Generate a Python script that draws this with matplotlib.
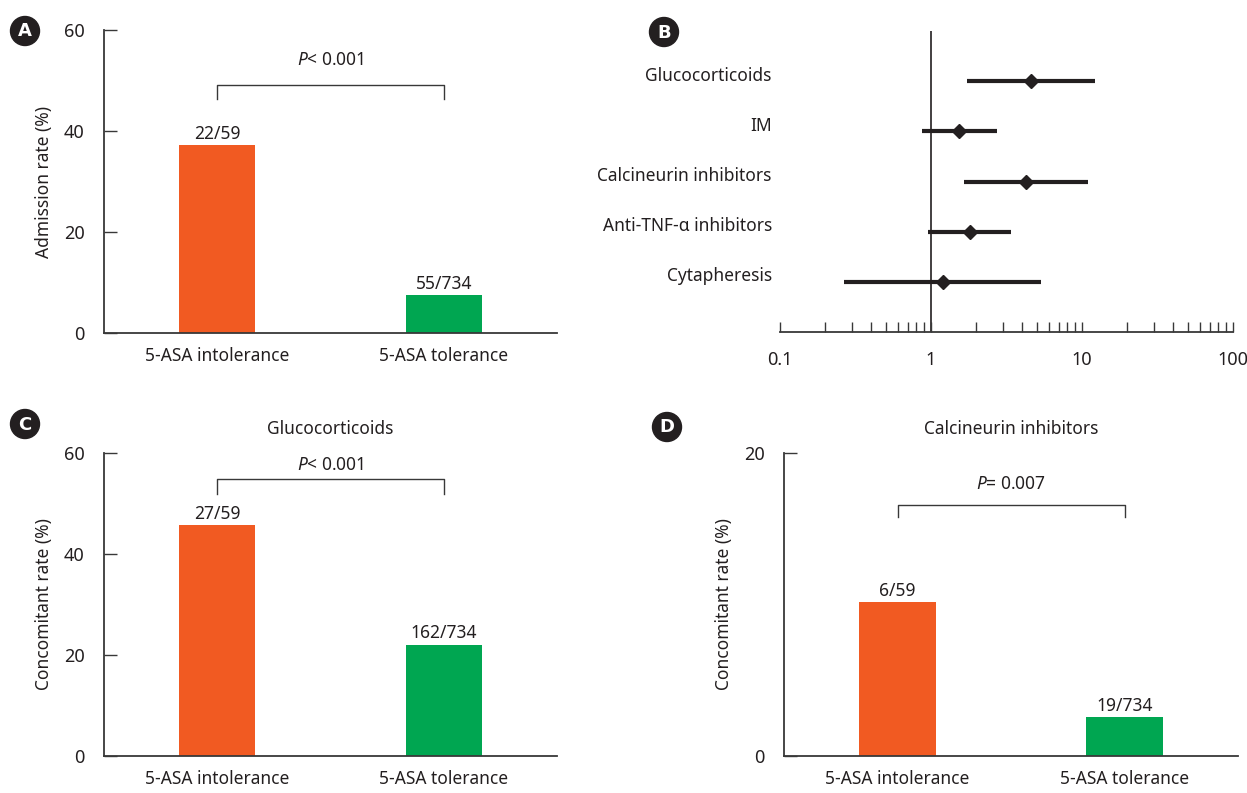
import matplotlib
matplotlib.use("Agg")
import matplotlib.pyplot as plt
import matplotlib.transforms as mtransforms
from matplotlib.patches import Circle
from matplotlib.ticker import FixedLocator, NullFormatter
import numpy as np

plt.rcParams["font.family"] = ["Noto Sans", "DejaVu Sans"]
plt.rcParams["mathtext.fontset"] = "custom"
plt.rcParams["mathtext.rm"] = "Noto Sans"
plt.rcParams["mathtext.it"] = "Noto Sans:italic"

# ---- data -------------------------------------------------------------
groups = ["5-ASA intolerance", "5-ASA tolerance"]
totals = [59, 734]
admission_n = [22, 55]
glucocorticoid_n = [27, 162]
calcineurin_n = [6, 19]

agents = ["Glucocorticoids", "IM", "Calcineurin inhibitors",
          "Anti-TNF-\u03b1 inhibitors", "Cytapheresis"]
odds_ratio = [4.60, 1.53, 4.26, 1.81, 1.20]
ci_low = [1.73, 0.87, 1.65, 0.955, 0.265]
ci_high = [12.2, 2.74, 10.96, 3.39, 5.35]

forest_ticks = [0.1, 1, 10, 100]
forest_ticklabels = ["0.1", "1", "10", "100"]

# ---- styling ----------------------------------------------------------
W, H = 1247, 793
TEXT = "#231f20"
SPINE = "#383838"
bar_colors = ["#F15A22", "#00A651"]

fig = plt.figure(figsize=(W / 100, H / 100), dpi=100)


def px_rect(left, top, right, bottom):
    return [left / W, 1 - bottom / H, (right - left) / W, (bottom - top) / H]


def bar_panel(rect, counts, ymax, yticks, ylabel, bracket, ptext, ptext_y, title=None):
    ax = fig.add_axes(rect)
    rates = [100 * n / t for n, t in zip(counts, totals)]
    x = np.arange(len(groups))
    ax.bar(x, rates, width=0.335, color=bar_colors, zorder=2)
    for xi, r, n, t in zip(x, rates, counts, totals):
        ax.annotate(f"{n}/{t}", (xi, r), xytext=(0, 1.5), textcoords="offset points",
                    ha="center", va="bottom", fontsize=12.5, color=TEXT)
    ax.set_xlim(-0.5, 1.5)
    ax.set_ylim(0, ymax)
    ax.set_yticks(yticks)
    ax.set_xticks(x, groups)
    ax.tick_params(axis="y", direction="in", length=9, width=1, color=SPINE,
                   pad=14, labelsize=13, labelcolor=TEXT)
    ax.tick_params(axis="x", length=0, pad=10, labelsize=12.5, labelcolor=TEXT)
    for s in ("top", "right"):
        ax.spines[s].set_visible(False)
    for s in ("left", "bottom"):
        ax.spines[s].set_color(SPINE)
        ax.spines[s].set_linewidth(1.3)
    top, drop = bracket
    ax.plot([0, 0, 1, 1], [drop, top, top, drop], color=SPINE, lw=1, clip_on=False)
    ax.text(0.5, ptext_y, ptext, ha="center", va="center", fontsize=12.5, color=TEXT)
    ax.set_ylabel(ylabel, fontsize=12.5, color=TEXT)
    ax.yaxis.set_label_coords(-0.113, 0.5)
    if title:
        ax.set_title(title, fontsize=12.5, color=TEXT, pad=14)
    return ax


# A: admission rate
bar_panel(px_rect(104, 30, 557, 333), admission_n, 60, [0, 20, 40, 60],
          "Admission rate (%)", (49.1, 46.3), r"$P$< 0.001", 54.1)

# C: concomitant glucocorticoids
bar_panel(px_rect(104, 453, 557, 756), glucocorticoid_n, 60, [0, 20, 40, 60],
          "Concomitant rate (%)", (54.85, 51.9), r"$P$< 0.001", 57.6,
          title="Glucocorticoids")

# D: concomitant calcineurin inhibitors
bar_panel(px_rect(784, 453, 1238, 756), calcineurin_n, 20, [0, 20],
          "Concomitant rate (%)", (16.6, 15.8), r"$P$= 0.007", 17.95,
          title="Calcineurin inhibitors")

# B: forest plot of odds ratios
axb = fig.add_axes(px_rect(780, 31, 1233, 332))
axb.set_xscale("log")
axb.set_xlim(0.1, 100)
axb.set_ylim(0, 6)
rows = np.arange(len(agents), 0, -1)
axb.plot([1, 1], [0, 6], color=TEXT, lw=1.2, zorder=1)
axb.hlines(rows, ci_low, ci_high, color=TEXT, lw=3, zorder=2)
axb.plot(odds_ratio, rows, "D", color=TEXT, ms=7, zorder=3)
axb.xaxis.set_major_locator(FixedLocator(forest_ticks))
axb.set_xticklabels(forest_ticklabels)
axb.xaxis.set_minor_formatter(NullFormatter())
axb.tick_params(axis="x", which="both", direction="in", length=7, width=1,
                color=SPINE, pad=14, labelsize=13, labelcolor=TEXT)
axb.set_yticks([])
for s in ("top", "right", "left"):
    axb.spines[s].set_visible(False)
axb.spines["bottom"].set_color(SPINE)
axb.spines["bottom"].set_linewidth(1.3)
label_tf = mtransforms.blended_transform_factory(axb.transAxes, axb.transData)
for r, name in zip(rows, agents):
    axb.text(-0.018, r + 0.11, name, transform=label_tf, ha="right", va="center",
             fontsize=12.5, color=TEXT)

# panel letters
overlay = fig.add_axes([0, 0, 1, 1])
overlay.set_xlim(0, W)
overlay.set_ylim(H, 0)
overlay.axis("off")
for letter, cx, cy in [("A", 25, 31), ("B", 664, 32), ("C", 25, 424), ("D", 667, 427)]:
    overlay.add_patch(Circle((cx, cy), 14.5, color=TEXT))
    overlay.text(cx, cy + 0.5, letter, ha="center", va="center", color="white",
                 fontsize=13, fontweight="bold", family="DejaVu Sans")

fig.savefig("out.png", dpi=100)
